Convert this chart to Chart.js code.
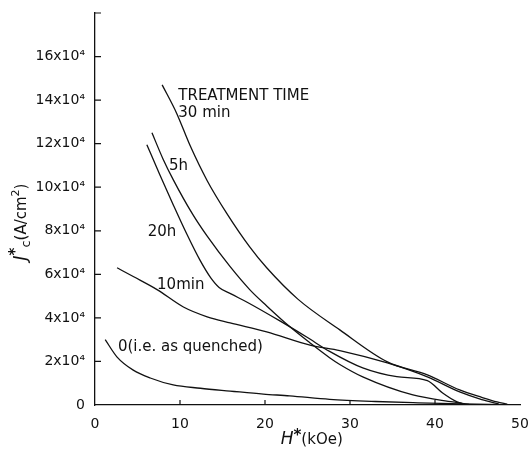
<!DOCTYPE html>
<html>
<head>
<meta charset="utf-8">
<script src="https://cdn.jsdelivr.net/npm/chart.js@4.4.1/dist/chart.umd.min.js"></script>
<style>
  html, body { margin: 0; padding: 0; background: #fff; }
  #wrap { width: 532px; height: 450px; }
</style>
</head>
<body>
<div id="wrap"><canvas id="jcChart" width="532" height="450"></canvas></div>
<script>
// H* in kOe, Jc* in units of 10^4 A/cm2
const h30min = [7.9, 9.6, 11.2, 13.2, 15.5, 18.2, 20.2, 23.9, 28.8, 34.4, 39.1, 42.9, 45.5, 47.3, 48.5];
const j30min = [14.7, 13.4, 11.9, 10.3, 8.8, 7.26, 6.3, 4.85, 3.45, 1.98, 1.38, 0.69, 0.35, 0.14, 0.04];

const h5h = [6.7, 8.0, 9.2, 11.5, 13.2, 15.9, 18.2, 20.2, 22.9, 25.3, 27.6, 28.8, 31.5, 37.4, 42.1, 44.0];
const j5h = [12.5, 11.3, 10.35, 8.75, 7.75, 6.35, 5.3, 4.55, 3.6, 2.85, 2.17, 1.86, 1.29, 0.46, 0.14, 0.03];

const h20h = [6.1, 7.6, 9.2, 10.8, 12.35, 13.6, 14.6, 16.0, 17.9, 21.8, 24.9, 27.6, 31.5, 35.5, 39.1, 40.9, 42.6, 43.5];
const j20h = [11.95, 10.6, 9.2, 7.85, 6.65, 5.85, 5.4, 5.1, 4.72, 3.85, 3.12, 2.46, 1.7, 1.3, 1.12, 0.55, 0.14, 0.03];

const h10min = [2.6, 4.5, 7.3, 10.4, 13.2, 15.9, 20.2, 25.3, 28.8, 34.4, 39.1, 42.9, 45.5, 47.5];
const j10min = [6.3, 5.9, 5.3, 4.5, 4.05, 3.77, 3.36, 2.75, 2.5, 1.93, 1.29, 0.6, 0.25, 0.05];

const hQuench = [1.2, 2.6, 4.5, 6.5, 9.2, 12.4, 15.9, 19.8, 22.9, 27.6, 33.0, 38.0, 43.3, 48.0];
const jQuench = [3.0, 2.2, 1.6, 1.24, 0.92, 0.77, 0.64, 0.5, 0.42, 0.26, 0.16, 0.1, 0.05, 0.02];

const xTicks = [0, 10, 20, 30, 40, 50];
const yTicks = [0, 2, 4, 6, 8, 10, 12, 14, 16, 18];

// curve labels: text, H, Jc anchor (left edge, vertical middle)
const curveLabels = [
    ['TREATMENT TIME', 9.8, 14.2],
    ['30 min', 9.8, 13.4],
    ['5h', 8.7, 10.95],
    ['20h', 6.2, 7.95],
    ['10min', 7.3, 5.5],
    ['0(i.e. as quenched)', 2.7, 2.67]
];

const ink = '#111';
const FONT = '"DejaVu Sans", sans-serif';

function pts(hs, js) {
    return hs.map((h, i) => ({ x: h, y: js[i] }));
}

function curve(hs, js) {
    return {
        data: pts(hs, js),
        borderColor: ink,
        borderWidth: 1.3,
        pointRadius: 0,
        fill: false,
        cubicInterpolationMode: 'monotone'
    };
}

function drawPieces(ctx, pieces, x, y) {
    // pieces: [text, font, dy]
    let total = 0;
    pieces.forEach(p => { ctx.font = p[1]; total += ctx.measureText(p[0]).width; });
    let cx = x - total / 2;
    pieces.forEach(p => {
        ctx.font = p[1];
        ctx.fillText(p[0], cx, y + p[2]);
        cx += ctx.measureText(p[0]).width;
    });
}

const decorPlugin = {
    id: 'decor',
    afterDraw(chart) {
        const ctx = chart.ctx;
        const xs = chart.scales.x, ys = chart.scales.y;
        const area = chart.chartArea;
        ctx.save();
        ctx.strokeStyle = ink;
        ctx.lineWidth = 1.2;
        // inward tick marks
        ctx.beginPath();
        xTicks.slice(1, -1).forEach(v => {
            const px = xs.getPixelForValue(v);
            ctx.moveTo(px, area.bottom);
            ctx.lineTo(px, area.bottom - 5);
        });
        yTicks.slice(1).forEach(v => {
            const py = ys.getPixelForValue(v);
            ctx.moveTo(area.left, py);
            ctx.lineTo(area.left + 6, py);
        });
        ctx.stroke();

        // curve labels
        ctx.fillStyle = ink;
        ctx.textBaseline = 'middle';
        ctx.textAlign = 'left';
        ctx.font = '15px ' + FONT;
        curveLabels.forEach(l => {
            ctx.fillText(l[0], xs.getPixelForValue(l[1]), ys.getPixelForValue(l[2]));
        });

        // x title: H*(kOe)
        drawPieces(ctx, [
            ['H', 'italic 17px ' + FONT, 0],
            ['*', 'bold 15px ' + FONT, -4],
            ['(kOe)', '15px ' + FONT, 0]
        ], xs.getPixelForValue(25.5), 440);

        // y title: Jc*(A/cm2), rotated
        ctx.translate(22, 222);
        ctx.rotate(-Math.PI / 2);
        drawPieces(ctx, [
            ['J', 'italic 17px ' + FONT, 0],
            ['*', 'bold 15px ' + FONT, -6],
            ['c', '13px ' + FONT, 5],
            ['(A/cm', '15px ' + FONT, 0],
            ['2', '11px ' + FONT, -6],
            [')', '15px ' + FONT, 0]
        ], 0, 0);
        ctx.restore();
    }
};

new Chart(document.getElementById('jcChart').getContext('2d'), {
    type: 'line',
    data: {
        datasets: [
            curve(h30min, j30min),
            curve(h5h, j5h),
            curve(h20h, j20h),
            curve(h10min, j10min),
            curve(hQuench, jQuench)
        ]
    },
    options: {
        responsive: false,
        animation: false,
        layout: { padding: { top: 13, right: 12, left: 0, bottom: 0 } },
        plugins: {
            legend: { display: false },
            tooltip: { enabled: false }
        },
        scales: {
            x: {
                type: 'linear',
                min: 0,
                max: 50,
                afterBuildTicks: s => { s.ticks = xTicks.map(v => ({ value: v })); },
                afterFit: s => { s.height = 45; },
                grid: { display: false },
                border: { display: true, color: ink, width: 1.3 },
                ticks: {
                    color: ink,
                    padding: 3,
                    maxRotation: 0,
                    font: { family: FONT, size: 14 }
                }
            },
            y: {
                type: 'linear',
                min: 0,
                max: 18,
                afterBuildTicks: s => { s.ticks = yTicks.map(v => ({ value: v })); },
                afterFit: s => { s.width = 95; },
                grid: { display: false },
                border: { display: true, color: ink, width: 1.3 },
                ticks: {
                    color: ink,
                    padding: 2,
                    font: { family: FONT, size: 14 },
                    callback: v => v === 18 ? '' : (v === 0 ? '0' : v + 'x10\u2074')
                }
            }
        }
    },
    plugins: [decorPlugin]
});
</script>
</body>
</html>
